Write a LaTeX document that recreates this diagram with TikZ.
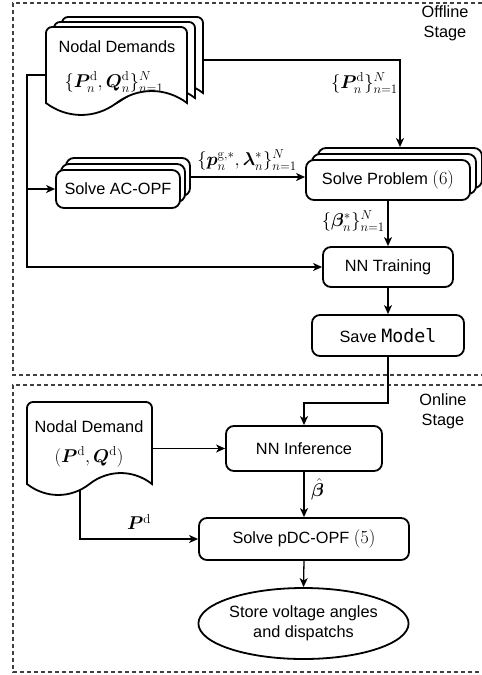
\RequirePackage{fix-cm}
\documentclass[tikz,border=0pt]{standalone}
\usepackage{amsmath}
\usepackage{bm}
\usepackage[no-math]{fontspec}
\setmainfont{Liberation Sans}
\newfontfamily\mymono{DejaVu Sans Mono}
\usetikzlibrary{arrows.meta,backgrounds,shapes.geometric}
\newcommand\fs{\fontsize{16.3}{20}\selectfont}
\newcommand\mfs{\fontsize{18.5}{22}\selectfont}
\tikzset{
  conn/.style={line width=1.3pt,-{Stealth[length=9pt,width=8pt,inset=2.5pt]}},
  rbox/.style={draw,line width=1.8pt,rounded corners=8pt,fill=white,inner sep=0pt,font=\fs},
  docst/.style={draw,line width=1.8pt,fill=white},
  shapebox/.style={inner sep=0pt},
  frame/.style={draw=black!75,line width=1.1pt,dash pattern=on 4pt off 3pt},
  lbl/.style={inner sep=0pt,font=\fs},
  mlbl/.style={inner sep=0pt,font=\mfs},
}
% L R T yb a
\newcommand\docshape[5]{%
  \pgfmathsetmacro\dw{#2-#1}%
  \pgfmathsetmacro\dm{(#1+#2)/2}%
  \pgfmathsetmacro\cA{#2-0.15*\dw}%
  \pgfmathsetmacro\cB{\dm+0.15*\dw}%
  \pgfmathsetmacro\cC{\dm-0.15*\dw}%
  \pgfmathsetmacro\cD{#1+0.15*\dw}%
  \pgfmathsetmacro\up{#4-1.33*#5}%
  \pgfmathsetmacro\dn{#4+1.33*#5}%
  \path[docst] (#1,#4) [rounded corners=6pt] -- (#1,#3) -- (#2,#3) [sharp corners] -- (#2,#4)
    .. controls (\cA,\up) and (\cB,\up) .. (\dm,#4)
    .. controls (\cC,\dn) and (\cD,\dn) .. (#1,#4) -- cycle;}
\begin{document}
\begin{tikzpicture}[x=1pt,y=-1pt]
\useasboundingbox (0,0) rectangle (482,675);

% offline document stack
\docshape{62}{203}{17}{93}{12}
\docshape{54}{195}{22}{98}{12}
\docshape{46}{187}{27}{103}{12}
\node[shapebox,minimum width=141pt,minimum height=76pt] (ndC) at (132.5,55) {};
\node[shapebox,minimum width=141pt,minimum height=76pt] (nd) at (116.5,65) {};
\node[lbl] (t1) at (117,47) {Nodal Demands};
\node[mlbl] (t2) at (114,82) {$\{\bm{P}_n^{\mathrm{d}},\bm{Q}_n^{\mathrm{d}}\}_{n=1}^{N}$};

% Solve AC-OPF stack
\node[rbox,minimum width=124pt,minimum height=38pt] (acC) at (128,177) {};
\node[rbox,minimum width=124pt,minimum height=38pt] (acB) at (123,183) {};
\node[rbox,minimum width=124pt,minimum height=38pt] (ac) at (118,189) {Solve AC-OPF};

% Solve Problem stack
\node[rbox,minimum width=164pt,minimum height=40pt] (spC) at (400,168) {};
\node[rbox,minimum width=164pt,minimum height=40pt] (spB) at (394,174) {};
\node[rbox,minimum width=164pt,minimum height=40pt] (sp) at (388,180) {Solve Problem {\mfs$(6)$}};

\node[rbox,minimum width=130pt,minimum height=40pt] (tr) at (388,267) {NN Training};
\node[rbox,minimum width=152pt,minimum height=41pt] (sm) at (388,335.5) {Save {\mymono\fontsize{18.3}{20}\selectfont Model}};

% online document
\docshape{27}{152}{402}{484}{11}
\node[shapebox,minimum width=125pt,minimum height=82pt] (nd2) at (89.5,443) {};
\node[lbl] (t3) at (89,427) {Nodal Demand};
\node[mlbl] (t4) at (89,457) {$(\bm{P}^{\mathrm{d}},\bm{Q}^{\mathrm{d}})$};

\node[rbox,minimum width=156pt,minimum height=45pt] (ni) at (304,448.5) {NN Inference};
\node[rbox,minimum width=210pt,minimum height=42pt] (pd) at (304,539) {Solve pDC-OPF {\mfs$(5)$}};
\node[draw,ellipse,line width=1.8pt,fill=white,minimum width=199pt,minimum height=71pt,
      inner sep=0pt,align=center,font=\fs] (el) at (303.5,623.5) {Store voltage angles\\and dispatchs};

% labels
\node[lbl,align=center] (off) at (445,23) {Offline\\Stage};
\node[lbl,align=center] (on) at (443,411) {Online\\Stage};
\node[mlbl,anchor=east] (l1) at (398,83) {$\{\bm{P}_n^{\mathrm{d}}\}_{n=1}^{N}$};
\node[mlbl] (l2) at (247,160) {$\{\bm{p}_n^{\mathrm{g},*},\bm{\lambda}_n^{*}\}_{n=1}^{N}$};
\node[mlbl,anchor=east] (l3) at (385,221) {$\{\bm{\beta}_n^{*}\}_{n=1}^{N}$};
\node[mlbl,anchor=west] (l4) at (311,489) {$\hat{\bm{\beta}}$};
\node[mlbl] (l5) at (139,522) {$\bm{P}^{\mathrm{d}}$};

\coordinate (tk) at (27,0);
\coordinate (bend) at (304,403);

\begin{scope}[on background layer]
  \draw[frame] (482,3) -- (13,3) -- (13,375) -- (482,375);
  \draw[frame] (482,385) -- (13,385) -- (13,672) -- (482,672);
  \draw[conn] ([yshift=-5pt]ndC.east) -| (spC.north);
  \draw[conn] ([yshift=-10pt]nd.west) -| (tk |- tr.west) -- (tr.west);
  \draw[conn] (tk |- ac.west) -- (ac.west);
  \draw[conn] (acC.east) -- (acC.east -| sp.west);
  \draw[conn] (sp.south) -- (tr.north);
  \draw[conn] (tr.south) -- (sm.north);
  \draw[conn] (sm.south) |- (bend) -- (ni.north);
  \draw[conn] (nd2.east |- ni.west) -- (ni.west);
  \draw[conn] (ni.south) -- (pd.north);
  \draw[conn] ([xshift=-9.5pt]nd2.south) |- (pd.west);
  \draw[conn] (pd.south) -- (el.north);
\end{scope}
\end{tikzpicture}
\end{document}
